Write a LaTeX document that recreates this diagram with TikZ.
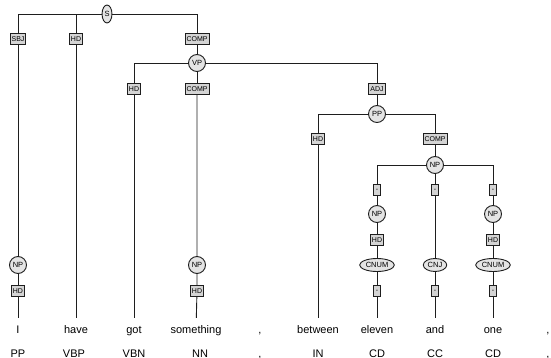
\documentclass[tikz,border=0pt]{standalone}
\usepackage{fontspec}
\setmainfont{Liberation Sans}
\usetikzlibrary{shapes.geometric}

\definecolor{boxgray}{HTML}{D4D4D4}
\definecolor{catgray}{HTML}{E4E4E4}
\definecolor{linegray}{HTML}{1E1E1E}

\tikzset{
  edge/.style={draw=linegray, line width=0.9pt},
  fn/.style={rectangle, draw=linegray, fill=boxgray, line width=0.9pt, inner sep=1.5pt,
    minimum height=11pt, minimum width=7pt, font=\fontsize{7}{7}\selectfont},
  cat/.style={circle, draw=linegray, fill=catgray, line width=0.9pt, inner sep=1pt,
    minimum size=17pt, font=\fontsize{7.5}{7.5}\selectfont},
  oval/.style={ellipse, draw=linegray, fill=catgray, line width=0.9pt, inner sep=1pt,
    minimum height=13pt, font=\fontsize{7.5}{7.5}\selectfont},
  word/.style={anchor=base, text height=8pt, text depth=2pt, inner ysep=7pt,
    font=\fontsize{11}{11}\selectfont},
  tag/.style={anchor=base, font=\fontsize{11}{11}\selectfont}
}

\begin{document}
\begin{tikzpicture}[x=1pt, y=-1pt]
  \useasboundingbox (0,0) rectangle (551,358);

  % Words and their tags
  \node[word] (w1) at (18,333) {I};
  \node[word] (w2) at (76,333) {have};
  \node[word] (w3) at (134,333) {got};
  \node[word] (w4) at (196,333) {something};
  \node[word] (w5) at (260,333) {,};
  \node[word] (w6) at (318,333) {between};
  \node[word] (w7) at (377,333) {eleven};
  \node[word] (w8) at (435,333) {and};
  \node[word] (w9) at (493,333) {one};
  \node[word] (w10) at (548,333) {,};

  \node[tag] (t1) at (18,357) {PP};
  \node[tag] (t2) at (74,357) {VBP};
  \node[tag] (t3) at (134,357) {VBN};
  \node[tag] (t4) at (200,357) {NN};
  \node[tag] (t5) at (260,357) {,};
  \node[tag] (t6) at (318,357) {IN};
  \node[tag] (t7) at (377,357) {CD};
  \node[tag] (t8) at (435,357) {CC};
  \node[tag] (t9) at (493,357) {CD};
  \node[tag] (t10) at (548,357) {,};

  % Sentence level
  \node[oval, minimum width=9pt, minimum height=18pt] (S) at (107,14) {S};
  \node[fn] (sbjS) at (18,39) {SBJ};
  \node[fn] (hdS) at (76,39) {HD};
  \node[fn] (compS) at (197,39) {COMP};

  % Subject
  \node[cat] (npI) at (18,265) {NP};
  \node[fn] (hdI) at (18,291) {HD};

  % Verb phrase
  \node[cat] (VP) at (197,63) {VP};
  \node[fn] (hdVP) at (134,89) {HD};
  \node[fn] (compVP) at (197,89) {COMP};
  \node[fn] (adjVP) at (377,89) {ADJ};
  \node[cat] (npSome) at (197,265) {NP};
  \node[fn] (hdSome) at (197,291) {HD};

  % Prepositional phrase
  \node[cat] (PP) at (377,114) {PP};
  \node[fn] (hdPP) at (318,139) {HD};
  \node[fn] (compPP) at (435,139) {COMP};

  % Coordinated numbers
  \node[cat] (NPc) at (435,165) {NP};
  \node[fn] (d1) at (377,190) {-};
  \node[fn] (d2) at (435,190) {-};
  \node[fn] (d3) at (493,190) {-};
  \node[cat] (npA) at (377,214) {NP};
  \node[fn] (hdA) at (377,240) {HD};
  \node[oval] (cnumA) at (377,265) {CNUM};
  \node[fn] (d4) at (377,291) {-};
  \node[oval] (cnj) at (435,265) {CNJ};
  \node[fn] (d5) at (435,291) {-};
  \node[cat] (npB) at (493,214) {NP};
  \node[fn] (hdB) at (493,240) {HD};
  \node[oval] (cnumB) at (493,265) {CNUM};
  \node[fn] (d6) at (493,291) {-};

  % Branches
  \draw[edge] (S) -| (sbjS) (S) -| (hdS) (S) -| (compS);
  \draw[edge] (sbjS) -- (npI) (npI) -- (hdI) (hdI) -- (w1);
  \draw[edge] (hdS) -- (w2);
  \draw[edge] (compS) -- (VP);
  \draw[edge] (VP) -| (hdVP) (VP) -- (compVP) (VP) -| (adjVP);
  \draw[edge] (hdVP) -- (w3);
  \draw[edge] (compVP) -- (npSome) (npSome) -- (hdSome) (hdSome) -- (w4);
  \draw[edge] (adjVP) -- (PP);
  \draw[edge] (PP) -| (hdPP) (PP) -| (compPP);
  \draw[edge] (hdPP) -- (w6);
  \draw[edge] (compPP) -- (NPc);
  \draw[edge] (NPc) -| (d1) (NPc) -- (d2) (NPc) -| (d3);
  \draw[edge] (d1) -- (npA) (npA) -- (hdA) (hdA) -- (cnumA) (cnumA) -- (d4) (d4) -- (w7);
  \draw[edge] (d2) -- (cnj) (cnj) -- (d5) (d5) -- (w8);
  \draw[edge] (d3) -- (npB) (npB) -- (hdB) (hdB) -- (cnumB) (cnumB) -- (d6) (d6) -- (w9);

\end{tikzpicture}
\end{document}
